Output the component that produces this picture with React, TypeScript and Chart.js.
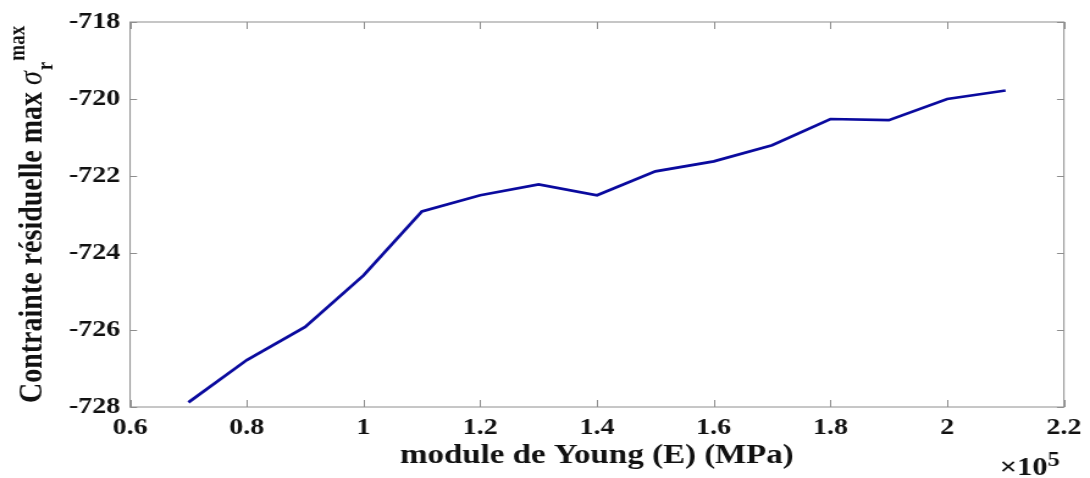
import { useEffect, useRef } from "react";
import { Chart, registerables } from "chart.js";

Chart.register(...registerables);

// Young's modulus (×10^5 MPa) and the matching maximum residual stress (MPa)
const youngModulus = [0.7, 0.8, 0.9, 1.0, 1.1, 1.2, 1.3, 1.4, 1.5, 1.6, 1.7, 1.8, 1.9, 2.0, 2.1];
const residualStress = [
  -727.88, -726.78, -725.92, -724.58, -722.92, -722.5, -722.22, -722.5,
  -721.88, -721.62, -721.2, -720.52, -720.55, -720.0, -719.78,
];

const xTickValues = [0.6, 0.8, 1, 1.2, 1.4, 1.6, 1.8, 2, 2.2];
const xTickLabels = ["0.6", "0.8", "1", "1.2", "1.4", "1.6", "1.8", "2", "2.2"];
const yTickValues = [-728, -726, -724, -722, -720, -718];
const yTickLabels = ["-728", "-726", "-724", "-722", "-720", "-718"];

const xTitle = "module de Young (E) (MPa)";
const yTitleMain = "Contrainte résiduelle max ";
const yTitleSymbol = "σ";
const yTitleSub = "r";
const yTitleSup = "max";
const xExponentBase = "×10";
const xExponent = "5";

// The figure is drawn on a narrower canvas and widened with CSS,
// which gives the wide, stretched look of the exported figure.
const CSS_W = 1090;
const CSS_H = 478;
const STRETCH = 1.22;
const W = Math.round(CSS_W / STRETCH);
const H = CSS_H;

const PLOT_LEFT = 130 / STRETCH;
const PLOT_RIGHT = 1067 / STRETCH;
const PLOT_TOP = 22;
const PLOT_BOTTOM = 407;

const SERIF = "'Liberation Serif', 'Times New Roman', serif";
const TEXT_COLOR = "#111111";
const FRAME_COLOR = "#8e8e8e";
const LINE_COLOR = "#0a0a9e";

const frame = {
  id: "matlabFrame",
  beforeDatasetsDraw(chart: any) {
    const { ctx, chartArea: a, scales } = chart;
    const x = scales.x;
    const y = scales.y;
    ctx.save();
    ctx.strokeStyle = FRAME_COLOR;
    ctx.lineWidth = 1;
    ctx.strokeRect(a.left, a.top, a.right - a.left, a.bottom - a.top);
    ctx.beginPath();
    const tickV = 7;
    const tickH = 7 / STRETCH;
    for (const v of xTickValues) {
      const px = Math.round(x.getPixelForValue(v)) + 0.5;
      ctx.moveTo(px, a.bottom);
      ctx.lineTo(px, a.bottom - tickV);
      ctx.moveTo(px, a.top);
      ctx.lineTo(px, a.top + tickV);
    }
    for (const v of yTickValues) {
      const py = Math.round(y.getPixelForValue(v)) + 0.5;
      ctx.moveTo(a.left, py);
      ctx.lineTo(a.left + tickH, py);
      ctx.moveTo(a.right, py);
      ctx.lineTo(a.right - tickH, py);
    }
    ctx.stroke();
    ctx.restore();
  },
  afterDraw(chart: any) {
    const { ctx, chartArea: a } = chart;
    ctx.save();
    ctx.fillStyle = TEXT_COLOR;

    // rotated y-axis title with σ and its scripts
    ctx.translate(42 / STRETCH, 403);
    ctx.rotate(-Math.PI / 2);
    ctx.textBaseline = "alphabetic";
    ctx.textAlign = "left";
    ctx.font = `bold 28px ${SERIF}`;
    const wMain = ctx.measureText(yTitleMain).width;
    ctx.fillText(yTitleMain, 0, 0);
    ctx.font = `italic 28px ${SERIF}`;
    const wSym = ctx.measureText(yTitleSymbol).width;
    ctx.fillText(yTitleSymbol, wMain, 0);
    ctx.font = `bold 19px ${SERIF}`;
    const wSub = ctx.measureText(yTitleSub).width;
    ctx.fillText(yTitleSub, wMain + wSym + 1, 9);
    ctx.fillText(yTitleSup, wMain + wSym + wSub + 2, -14);
    ctx.setTransform(1, 0, 0, 1, 0, 0);

    // ×10^5 multiplier under the right end of the x axis
    ctx.textAlign = "right";
    ctx.font = `bold 20px ${SERIF}`;
    const expRight = a.right - 4 / STRETCH;
    const wExp = ctx.measureText(xExponent).width;
    ctx.fillText(xExponent, expRight, 466);
    ctx.font = `bold 25px ${SERIF}`;
    ctx.fillText(xExponentBase, expRight - wExp, 475);
    ctx.restore();
  },
};

export default function App() {
  const canvasRef = useRef<HTMLCanvasElement | null>(null);

  useEffect(() => {
    document.body.style.margin = "0";
    const canvas = canvasRef.current;
    if (!canvas) return;

    const chart = new Chart(canvas, {
      type: "line",
      data: {
        datasets: [
          {
            data: youngModulus.map((e, i) => ({ x: e, y: residualStress[i] })),
            borderColor: LINE_COLOR,
            borderWidth: 2.7,
            pointRadius: 0,
            tension: 0,
            fill: false,
          },
        ],
      },
      options: {
        responsive: false,
        devicePixelRatio: 1,
        animation: false,
        events: [],
        layout: {
          padding: { left: 0, right: W - PLOT_RIGHT, top: PLOT_TOP, bottom: 0 },
        },
        plugins: {
          legend: { display: false },
          tooltip: { enabled: false },
        },
        scales: {
          x: {
            type: "linear",
            min: 0.6,
            max: 2.2,
            afterBuildTicks: (s: any) => {
              s.ticks = xTickValues.map((v) => ({ value: v }));
            },
            afterFit: (s: any) => {
              s.height = H - PLOT_BOTTOM;
            },
            grid: { display: false, drawTicks: false },
            border: { display: false },
            ticks: {
              autoSkip: false,
              maxRotation: 0,
              padding: 7,
              color: TEXT_COLOR,
              font: { family: SERIF, size: 23, weight: "bold" },
              callback: (v: any) => xTickLabels[xTickValues.indexOf(Number(v))] ?? "",
            },
            title: {
              display: true,
              text: xTitle,
              color: TEXT_COLOR,
              font: { family: SERIF, size: 27, weight: "bold" },
              padding: { top: 0, bottom: 6 },
            },
          },
          y: {
            type: "linear",
            min: -728,
            max: -718,
            afterBuildTicks: (s: any) => {
              s.ticks = yTickValues.map((v) => ({ value: v }));
            },
            afterFit: (s: any) => {
              s.width = PLOT_LEFT;
            },
            grid: { display: false, drawTicks: false },
            border: { display: false },
            ticks: {
              padding: 8,
              color: TEXT_COLOR,
              font: { family: SERIF, size: 23, weight: "bold" },
              callback: (v: any) => yTickLabels[yTickValues.indexOf(Number(v))] ?? "",
            },
          },
        },
      },
      plugins: [frame],
    });

    return () => chart.destroy();
  }, []);

  return (
    <canvas
      ref={canvasRef}
      width={W}
      height={H}
      style={{ display: "block", width: `${CSS_W}px`, height: `${CSS_H}px` }}
    />
  );
}
